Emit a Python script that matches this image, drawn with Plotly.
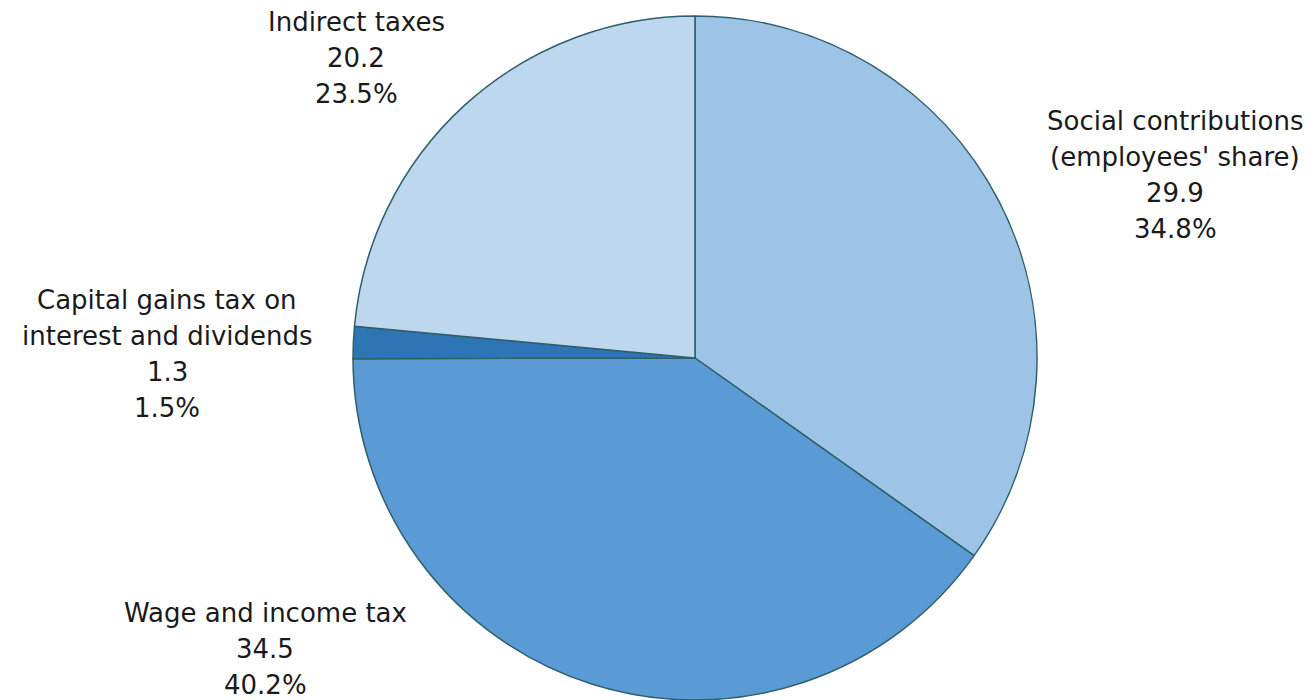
import plotly.graph_objects as go

# Tax burden components (values and shares)
categories = [
    "Social contributions<br>(employees' share)",
    "Wage and income tax",
    "Capital gains tax on<br>interest and dividends",
    "Indirect taxes",
]
values = [29.9, 34.5, 1.3, 20.2]
colors = ["#9DC3E6", "#5B9BD5", "#2E75B6", "#BDD7EE"]

W, H = 1315, 700
total = sum(values)

fig = go.Figure(
    go.Pie(
        labels=categories,
        values=values,
        sort=False,
        direction="clockwise",
        rotation=0,
        marker=dict(colors=colors, line=dict(color="#2F5F6B", width=1.5)),
        textinfo="none",
        hoverinfo="label+value+percent",
        domain=dict(x=[353 / W, 1037 / W], y=[0, 1 - 16 / H]),
        showlegend=False,
    )
)

# Label placement (pixel centre of first line) for each slice
label_pos = [(1175, 121), (265, 613), (167, 300), (356, 22)]
line_pitch = 36
font = dict(family="DejaVu Sans, Lato, sans-serif", size=26, color="#1a1a1a")

for name, val, (px, py) in zip(categories, values, label_pos):
    lines = name.split("<br>") + [f"{val:.1f}", f"{val / total * 100:.1f}%"]
    for i, line in enumerate(lines):
        fig.add_annotation(
            x=px / W,
            y=1 - (py + i * line_pitch) / H,
            xref="paper",
            yref="paper",
            text=line,
            showarrow=False,
            xanchor="center",
            yanchor="middle",
            font=font,
        )

fig.update_layout(
    width=W,
    height=H,
    margin=dict(l=0, r=0, t=0, b=0),
    paper_bgcolor="white",
    plot_bgcolor="white",
)

fig.write_html("out.html")
